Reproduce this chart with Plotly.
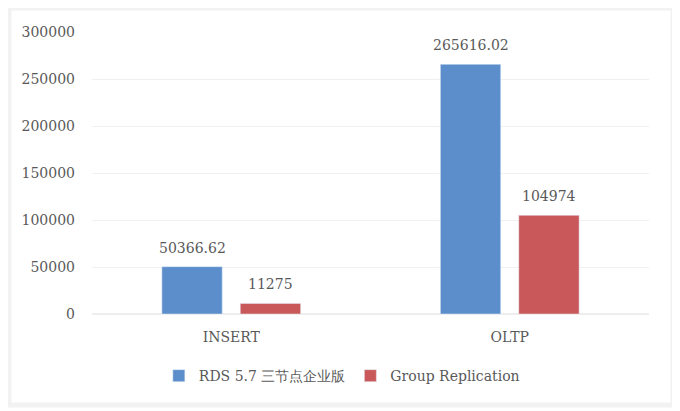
import plotly.graph_objects as go

categories = ["INSERT", "OLTP"]
rds_values = [50366.62, 265616.02]
gr_values = [11275, 104974]
rds_labels = ["50366.62", "265616.02"]
gr_labels = ["11275", "104974"]
series_names = ["RDS 5.7 三节点企业版", "Group Replication"]
y_ticks = [0, 50000, 100000, 150000, 200000, 250000, 300000]

font_family = "DejaVu Serif"
text_color = "#595959"

fig = go.Figure()

fig.add_trace(go.Bar(x=categories, y=rds_values, name=series_names[0],
                     marker_color="#5B8ECB"))
fig.add_trace(go.Bar(x=categories, y=gr_values, name=series_names[1],
                     marker_color="#C9585A"))

# value labels above each bar
for cat, v, lab in zip(categories, rds_values, rds_labels):
    fig.add_annotation(x=cat, y=v, text=lab, showarrow=False, xshift=-39,
                       yshift=19, yanchor="middle")
for cat, v, lab in zip(categories, gr_values, gr_labels):
    fig.add_annotation(x=cat, y=v, text=lab, showarrow=False, xshift=39,
                       yshift=19, yanchor="middle")

# faint outer frame
fig.add_shape(type="rect", xref="paper", yref="paper",
              x0=-0.149, x1=1.043, y0=-0.323, y1=1.085,
              line=dict(color="#f2f2f2", width=5), layer="below")

fig.update_layout(
    width=680, height=411,
    margin=dict(l=84, r=39, t=24, b=105),
    paper_bgcolor="white", plot_bgcolor="white",
    font=dict(family=font_family, size=14, color=text_color),
    barmode="group", bargap=0.437, bargroupgap=0.23,
    legend=dict(orientation="h", x=0.12, xanchor="left", y=-0.22,
                yanchor="middle", font=dict(size=14), traceorder="normal",
                itemwidth=30),
)

fig.update_xaxes(showgrid=False, showline=False, ticks="",
                 ticklabelstandoff=13, tickfont=dict(size=14))
fig.update_yaxes(range=[0, 300000], tickvals=y_ticks, tickformat="d",
                 showgrid=True, gridcolor="#f0f0f0", gridwidth=1,
                 zeroline=True, zerolinecolor="#eeeeee", showline=False,
                 ticks="", ticklabelstandoff=16, tickfont=dict(size=14))

fig.write_html("out.html")
